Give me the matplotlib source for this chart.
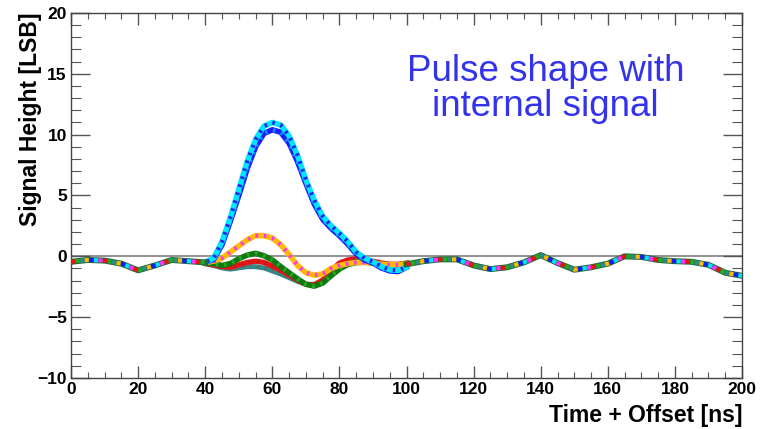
import numpy as np
import matplotlib
matplotlib.use("Agg")
import matplotlib.pyplot as plt
from matplotlib.ticker import MultipleLocator

# ---- data ----
t_base = np.arange(0, 205, 5)
baseline = [-0.45, -0.3, -0.35, -0.6, -1.15, -0.75, -0.3, -0.4, -0.5,
            -0.5, -0.5, -0.5, -0.5, -0.5, -0.5, -0.5, -0.5, -0.5, -0.5, -0.5,
            -0.65, -0.4, -0.25, -0.25, -0.75, -1.05, -0.9, -0.5, 0.1, -0.55,
            -1.1, -0.9, -0.6, 0.0, -0.05, -0.3, -0.4, -0.45, -0.7, -1.35, -1.6]

t_win = np.arange(40, 102.5, 2.5)
signal_hi = [-0.5, -0.15, 1.2, 3.2, 5.5, 7.8, 9.6, 10.7, 11.0, 10.8, 9.9, 8.3,
             6.3, 4.6, 3.3, 2.5, 1.9, 1.2, 0.35, -0.15, -0.45, -0.85, -1.1, -1.15, -0.9]
signal_lo = [-0.5, -0.25, 0.95, 2.9, 5.0, 7.2, 9.0, 10.1, 10.4, 10.2, 9.3, 7.8,
             6.0, 4.3, 3.05, 2.3, 1.7, 1.0, 0.2, -0.3, -0.55, -0.95, -1.2, -1.25, -0.9]
medium = [-0.5, -0.4, -0.15, 0.35, 0.85, 1.35, 1.7, 1.7, 1.5, 0.95, 0.15, -0.75,
          -1.35, -1.55, -1.45, -1.0, -0.75, -0.6, -0.5, -0.5, -0.55, -0.65, -0.7, -0.7, -0.6]
small_green = [-0.55, -0.6, -0.75, -0.6, -0.2, 0.1, 0.25, 0.05, -0.3, -0.85, -1.35, -1.85,
               -2.3, -2.45, -2.2, -1.6, -1.05, -0.65, -0.45, -0.45, -0.55, -0.65, -0.7, -0.7, -0.6]
small_red = [-0.6, -0.7, -0.85, -0.9, -0.7, -0.5, -0.4, -0.5, -0.8, -1.15, -1.55, -1.95,
             -2.3, -2.35, -1.95, -1.2, -0.55, -0.3, -0.2, -0.25, -0.4, -0.55, -0.65, -0.65, -0.55]
small_teal = [-0.6, -0.75, -0.95, -1.05, -0.95, -0.85, -0.85, -0.95, -1.2, -1.45, -1.75, -2.05,
              -2.3, -2.3, -2.0, -1.5, -1.0, -0.7, -0.55, -0.5, -0.55, -0.65, -0.7, -0.7, -0.6]

x_ticks = [0, 20, 40, 60, 80, 100, 120, 140, 160, 180, 200]
y_ticks = [-10, -5, 0, 5, 10, 15, 20]

plt.rcParams['font.family'] = ['Liberation Sans', 'DejaVu Sans']
fig = plt.figure(figsize=(7.72, 4.29), dpi=100)
ax = fig.add_axes([0.092, 0.1189, 0.8692, 0.8508])

ax.axhline(0, color='#888888', lw=1.3, zorder=1)

tb = np.asarray(t_base, float)
bb = np.asarray(baseline, float)

# pulse-window traces
groups = [
    (small_teal, ['#2e8b8b', '#5a6e6e'], 3.6),
    (small_red, ['#ee1111', '#b22222'], 3.8),
    (small_green, ['#117711', '#22aa22'], 4.0),
    (medium, ['#ffbb00', '#ff33ff'], 4.0),
    (signal_lo, ['#1a1aff', '#1188ff'], 4.0),
    (signal_hi, ['#00e5ff', '#2222ee'], 4.0),
]
for k, (win, cols, lw) in enumerate(groups):
    ax.plot(t_win, win, color=cols[0], lw=lw, zorder=2 + k)
    ax.plot(t_win, win, color=cols[1], lw=lw * 0.75, zorder=2 + k,
            linestyle=(k * 0.7, (0.6, 1.4)))

# common baseline outside the pulse window: many overlapping traces
mix = ['#ee1111', '#ff33ff', '#00e5ff', '#1a1aff', '#ffbb00', '#2e8b8b', '#22aa22']
for seg in (tb <= t_win[0], tb >= t_win[-1]):
    ax.plot(tb[seg], bb[seg], color='#1f6a3a', lw=4.3, zorder=10)
    for j, c in enumerate(mix):
        ax.plot(tb[seg], bb[seg], color=c, lw=3.0, zorder=11,
                linestyle=(j * 1.1, (1.0, 6.7)))

ax.set_xlim(0, 200)
ax.set_ylim(-10, 20)
ax.set_xticks(x_ticks)
ax.set_yticks(y_ticks)
ax.xaxis.set_minor_locator(MultipleLocator(5))
ax.yaxis.set_minor_locator(MultipleLocator(1))
ax.set_xticklabels([str(v) for v in x_ticks])
ax.set_yticklabels([str(v).replace('-', '\u2212') for v in y_ticks])
for lab in ax.get_xticklabels() + ax.get_yticklabels():
    lab.set_fontweight('bold')
    lab.set_fontsize(12.5)

ax.tick_params(axis='both', which='both', direction='in', top=True, right=True,
               color='#555555')
ax.tick_params(axis='x', which='major', length=8.6, width=1.0, pad=3)
ax.tick_params(axis='x', which='minor', length=4.3, width=0.8)
ax.tick_params(axis='y', which='major', length=13.7, width=1.0, pad=3)
ax.tick_params(axis='y', which='minor', length=7, width=0.8)
for s in ax.spines.values():
    s.set_color('#444444')
    s.set_linewidth(1.0)

ax.set_xlabel('Time + Offset [ns]', fontsize=16.5, fontweight='bold', loc='right')
ax.xaxis.set_label_coords(1.0, -0.071)
ax.set_ylabel('Signal Height [LSB]', fontsize=16.5, fontweight='bold', loc='top')
ax.yaxis.set_label_coords(-0.043, 1.0)

ax.text(0.7075, 0.888, 'Pulse shape with\ninternal signal', transform=ax.transAxes,
        ha='center', va='top', fontsize=26.5, color='#3333ee', linespacing=1.0)

fig.savefig('out.png', dpi=100)
